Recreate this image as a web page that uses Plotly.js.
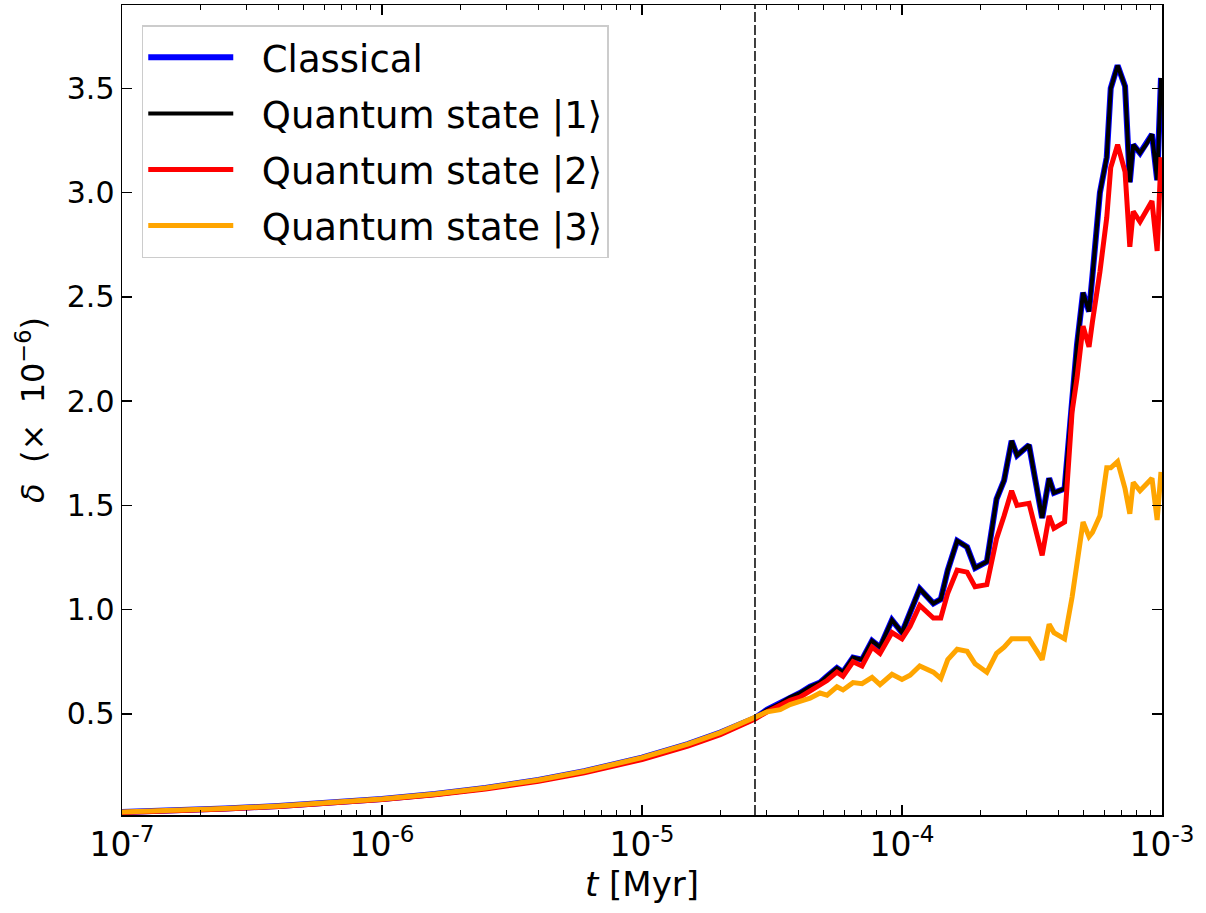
<!DOCTYPE html>
<html>
<head>
<meta charset="utf-8">
<script src="https://cdn.plot.ly/plotly-3.0.1.min.js"></script>
<style>html,body{margin:0;padding:0;background:#fff;}#chart{width:1206px;height:913px;}</style>
</head>
<body>
<div id="chart"></div>
<script>
// time in Myr
const times = [1e-7, 1.5e-7, 2.5e-7, 4e-7, 6e-7, 1e-6, 1.6e-6, 2.5e-6, 4e-6, 6e-6, 1e-5, 1.5e-5, 2e-5,
  2.72e-5, 3.03e-5, 3.40e-5, 3.71e-5, 4.05e-5, 4.43e-5, 4.84e-5, 5.15e-5, 5.62e-5, 5.93e-5,
  6.48e-5, 7.02e-5, 7.67e-5, 8.23e-5, 9.15e-5, 1.00e-4, 1.074e-4, 1.17e-4, 1.32e-4, 1.41e-4,
  1.50e-4, 1.63e-4, 1.78e-4, 1.91e-4, 2.12e-4, 2.31e-4, 2.47e-4, 2.64e-4, 2.77e-4, 3.08e-4,
  3.46e-4, 3.68e-4, 3.84e-4, 4.22e-4, 4.51e-4, 4.71e-4, 4.97e-4, 5.24e-4, 5.40e-4, 5.77e-4,
  6.13e-4, 6.35e-4, 6.75e-4, 7.21e-4, 7.52e-4, 7.75e-4, 8.23e-4, 8.68e-4, 9.15e-4, 9.58e-4, 9.91e-4];

const classical = [.029,.035,.046,.058,.071,.092,.116,.145,.183,.225,.29,.355,.41,
  .48,.52,.55,.58,.60,.63,.65,.68,.72,.70, .77,.76,.85,.82,.95,.89,.98,1.10,1.03,1.05,
  1.19,1.33,1.30,1.20,1.23,1.53,1.62,1.81,1.74,1.79, 1.44,1.63,1.56,1.58,2.00,2.27,2.52,2.43,2.60,3.00,
  3.17,3.50,3.61,3.51,3.05,3.23,3.19,3.23,3.28,3.06, 3.55];

const quantum1 = [.029,.035,.046,.058,.071,.092,.116,.145,.183,.225,.29,.355,.41,
  .48,.52,.55,.58,.60,.63,.65,.68,.72,.70, .77,.76,.85,.82,.95,.89,.98,1.10,1.03,1.05,
  1.19,1.33,1.30,1.20,1.23,1.53,1.62,1.81,1.74,1.79, 1.44,1.63,1.56,1.58,2.00,2.27,2.52,2.43,2.60,3.00,
  3.17,3.50,3.61,3.51,3.05,3.23,3.19,3.23,3.28,3.06, 3.55];

const quantum2 = [.027,.033,.044,.056,.069,.089,.112,.140,.177,.218,.281,.345,.40,
  .475,.51,.54,.565,.58,.61,.64,.66,.70,.68, .75,.73,.82,.79,.89,.86,.92,1.02,.96,.96,
  1.08,1.19,1.18,1.11,1.12,1.34,1.45,1.57,1.50,1.51, 1.26,1.45,1.39,1.42,1.95,2.11,2.36,2.26,2.38,2.62,
  2.88,3.12,3.23,3.10,2.74,2.91,2.86,2.91,2.96,2.72, 3.17];

const quantum3 = [.029,.035,.046,.058,.071,.092,.116,.145,.183,.225,.29,.355,.41,
  .48,.51,.52,.545,.56,.575,.60,.59,.63,.615, .65,.645,.675,.64,.69,.665,.685,.73,.70,.67,
  .76,.81,.80,.74,.70,.79,.82,.86,.86,.86, .76,.93,.89,.86,1.06,1.24,1.42,1.35,1.37,1.45,
  1.68,1.68,1.71,1.58,1.46,1.61,1.57,1.60,1.63,1.43, 1.66];

const seriesNames = ['Classical', 'Quantum state |1⟩', 'Quantum state |2⟩', 'Quantum state |3⟩'];
const markerTime = 2.72e-5;
const yLimits = [0.015, 3.9];
const xLimits = [1e-7, 1e-3];
const yTicks = [0.5, 1.0, 1.5, 2.0, 2.5, 3.0, 3.5];
const xTicks = [1e-7, 1e-6, 1e-5, 1e-4, 1e-3];
const xTickText = ['10<sup>-7</sup>', '10<sup>-6</sup>', '10<sup>-5</sup>', '10<sup>-4</sup>', '10<sup>-3</sup>'];

const font = 'DejaVu Sans, sans-serif';
const pad = '&nbsp;&nbsp;';
const traces = [
  {x: times, y: classical, name: pad + seriesNames[0], legendgroup: 'a', mode: 'lines', line: {color: '#0000ff', width: 6}},
  {x: times, y: quantum1, name: pad + seriesNames[1], legendgroup: 'b', mode: 'lines', line: {color: '#000000', width: 4}},
  {x: times, y: quantum2, name: pad + seriesNames[2], legendgroup: 'c', mode: 'lines', line: {color: '#ff0000', width: 5}},
  {x: times, y: quantum3, name: pad + seriesNames[3], legendgroup: 'd', mode: 'lines', line: {color: '#ffa500', width: 5}},
  {x: [markerTime, markerTime], y: yLimits, mode: 'lines', showlegend: false, hoverinfo: 'skip',
   line: {color: '#000000', width: 1.5, dash: '10px,3px'}}
];

const layout = {
  width: 1206, height: 913,
  margin: {l: 122, r: 44, t: 5, b: 98},
  paper_bgcolor: '#ffffff', plot_bgcolor: '#ffffff',
  font: {family: font, color: '#000'},
  showlegend: true,
  xaxis: {
    type: 'log', range: [Math.log10(xLimits[0]), Math.log10(xLimits[1])],
    tickmode: 'array', tickvals: xTicks, ticktext: xTickText,
    ticks: 'inside', ticklen: 10, tickwidth: 1.3, tickcolor: '#000', mirror: 'allticks',
    minor: {dtick: 'D1', ticks: 'inside', ticklen: 5, tickwidth: 1, tickcolor: '#000'},
    showline: true, linecolor: '#000', linewidth: 1.5, showgrid: false, zeroline: false,
    tickfont: {family: font, size: 33},
    title: {text: '<i>t</i> [Myr]', font: {family: font, size: 34}, standoff: 4}
  },
  yaxis: {
    range: yLimits, tickmode: 'array', tickvals: yTicks, ticktext: yTicks.map(v => v.toFixed(1)),
    ticks: 'inside', ticklen: 10, tickwidth: 1.3, tickcolor: '#000', mirror: 'allticks',
    showline: true, linecolor: '#000', linewidth: 1.5, showgrid: false, zeroline: false,
    tickfont: {family: font, size: 30},
    title: {text: '<i>δ</i>&nbsp;&nbsp;(×&nbsp;&nbsp;10<sup>−6</sup>)', font: {family: font, size: 32}, standoff: 12}
  },
  legend: {
    x: 0.019, y: 0.975, xanchor: 'left', yanchor: 'top',
    bgcolor: 'rgba(255,255,255,0.85)', bordercolor: '#cccccc', borderwidth: 1.5,
    font: {family: font, size: 37}, itemwidth: 85, tracegroupgap: 5
  }
};

Plotly.newPlot('chart', traces, layout, {displayModeBar: false, staticPlot: true});
</script>
</body>
</html>
